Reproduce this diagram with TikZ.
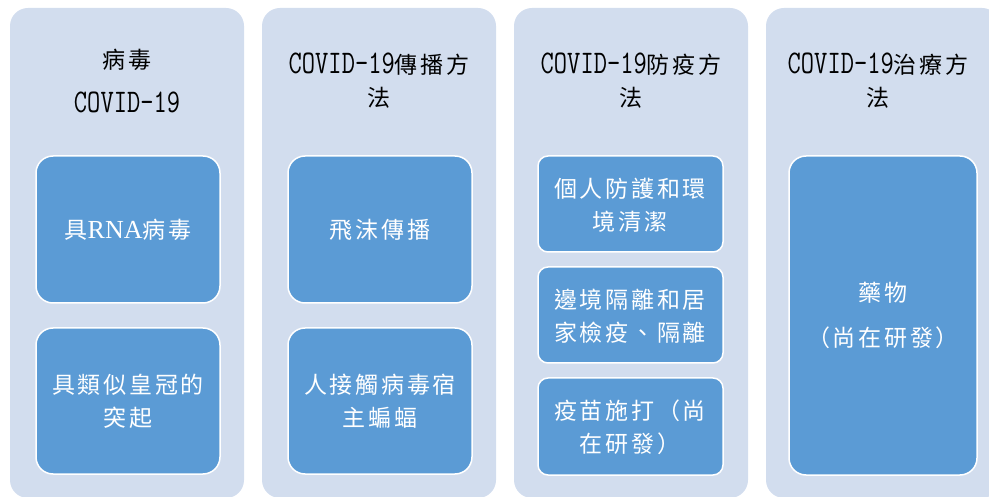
\documentclass[tikz,border=0pt]{standalone}
\usepackage{fontspec}
\usepackage{graphicx}
\newfontfamily\cjk{Noto Sans CJK TC}[LetterSpace=12]
\newfontfamily\latser{Liberation Serif}
\newcommand\covidtxt{\scalebox{0.78}[1]{\ttfamily\fontsize{33}{33}\selectfont COVID-19}}
\definecolor{outerbg}{HTML}{D2DDEE}
\definecolor{innerbg}{HTML}{5B9BD5}
\tikzset{
  column/.style={fill=outerbg, draw=none, rounded corners=18pt},
  bigbox/.style={fill=innerbg, draw=white, line width=1.5pt, rounded corners=17pt},
  smallbox/.style={fill=innerbg, draw=white, line width=1.5pt, rounded corners=10pt},
  title/.style={text=black, align=center, font=\cjk\fontsize{23}{33}\selectfont, inner sep=0pt},
  inner/.style={text=white, align=center, font=\cjk\fontsize{23}{33}\selectfont, inner sep=0pt},
}
\begin{document}
\begin{tikzpicture}[x=1pt,y=-1pt]
\useasboundingbox (0,0) rectangle (989,497);
\clip (0,0) rectangle (989,497);
% columns
\path[column] (10,8) rectangle (244,498);
\path[column] (262,8) rectangle (496,498);
\path[column] (514,8) rectangle (748,498);
\path[column] (766,8) rectangle (1000,498);
% titles
\node[title] (t1a) at (127,60) {病毒};
\node[title] (t1b) at (127,102) {\covidtxt};
\node[title] (t2) at (379,81) {\covidtxt 傳播方\\法};
\node[title] (t3) at (631,81) {\covidtxt 防疫方\\法};
\node[title] (t4) at (878,81) {\covidtxt 治療方\\法};
% column 1
\path[bigbox] (36,156) rectangle (220,303);
\node[inner] (b11) at (128,230) {具{\latser\fontsize{26}{26}\selectfont RNA}病毒};
\path[bigbox] (36,328) rectangle (220,474);
\node[inner] (b12) at (128,401) {具類似皇冠的\\突起};
% column 2
\path[bigbox] (288,156) rectangle (472,303);
\node[inner] (b21) at (380,230) {飛沫傳播};
\path[bigbox] (288,328) rectangle (472,474);
\node[inner] (b22) at (380,401) {人接觸病毒宿\\主蝙蝠};
% column 3
\path[smallbox] (538,156) rectangle (723,252);
\node[inner] (b31) at (630,205) {個人防護和環\\境清潔};
\path[smallbox] (538,267) rectangle (723,363);
\node[inner] (b32) at (630,316) {邊境隔離和居\\家檢疫、隔離};
\path[smallbox] (538,378) rectangle (723,475);
\node[inner] (b33) at (630,427) {疫苗施打（尚\\在研發）};
% column 4
\path[bigbox] (789,156) rectangle (977,475);
\node[inner] (b41) at (883,293) {藥物};
\node[inner] (b42) at (883,338) {（尚在研發）};
\end{tikzpicture}
\end{document}
